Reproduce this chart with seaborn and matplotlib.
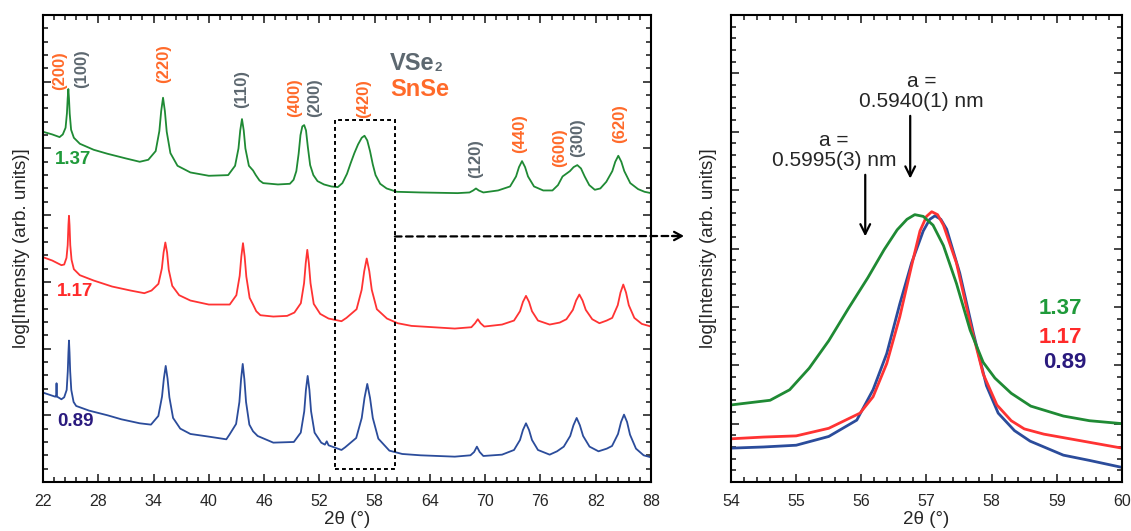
import matplotlib
matplotlib.use("Agg")
import numpy as np
import pandas as pd
import matplotlib.pyplot as plt
import seaborn as sns
from matplotlib.patches import Rectangle, ConnectionPatch

# ---------------- data ----------------
# left panel: full patterns (vertically offset, log intensity, arb. units)
g_x = [22.0, 23.0, 23.8, 24.15, 24.45, 24.6, 24.68, 24.75, 24.82, 24.9, 25.05, 25.35, 26.0, 27.5, 29.0,
       31.0, 32.5, 33.43, 34.23, 34.63, 34.83, 35.03, 35.23, 35.43, 35.83, 36.6, 38.0, 40.0,
       42.1, 42.85, 43.22, 43.41, 43.6, 43.79, 43.97, 44.35, 44.8, 45.1, 45.5, 45.9, 47.5, 48.8,
       49.2, 49.5, 49.75, 49.95, 50.15, 50.35, 50.55, 50.75, 51.0, 51.35, 51.8, 52.5, 53.3, 54.0,
       54.5, 55.0, 55.4, 55.8, 56.2, 56.6, 56.9, 57.2, 57.5, 57.8, 58.1, 58.6, 59.3, 60.4, 63.0, 67.0,
       68.3, 68.7, 69.0, 69.3, 69.8, 71.4, 72.7, 73.35, 73.67, 74.0, 74.33, 74.65, 75.3, 76.3,
       77.3, 77.9, 78.4, 78.8, 79.2, 79.6, 80.0, 80.4, 80.8, 81.3, 81.9, 82.5, 83.15, 83.8,
       84.12, 84.45, 84.78, 85.1, 85.75, 86.6, 87.3, 88.0]
g_y = [5.25, 5.21, 5.17, 5.21, 5.31, 5.53, 5.75, 5.89, 5.75, 5.52, 5.28, 5.16, 5.07, 4.98, 4.92,
       4.85, 4.80, 4.83, 4.96, 5.26, 5.56, 5.76, 5.56, 5.25, 4.93, 4.74, 4.64, 4.59,
       4.60, 4.74, 5.00, 5.27, 5.44, 5.27, 5.00, 4.74, 4.67, 4.60, 4.52, 4.48, 4.46, 4.47,
       4.53, 4.66, 4.92, 5.20, 5.33, 5.35, 5.27, 5.02, 4.75, 4.60, 4.51, 4.46, 4.43, 4.42,
       4.48, 4.62, 4.78, 4.93, 5.06, 5.16, 5.19, 5.12, 4.96, 4.76, 4.60, 4.47, 4.40, 4.35, 4.34, 4.33,
       4.34, 4.37, 4.40, 4.37, 4.34, 4.37, 4.43, 4.58, 4.72, 4.81, 4.72, 4.58, 4.43, 4.37,
       4.37, 4.45, 4.58, 4.62, 4.66, 4.72, 4.75, 4.70, 4.58, 4.45, 4.38, 4.40, 4.50, 4.66,
       4.80, 4.89, 4.80, 4.66, 4.48, 4.39, 4.35, 4.33]

r_x = [22.0, 23.0, 24.0, 24.3, 24.55, 24.68, 24.76, 24.82, 24.88, 24.96, 25.1, 25.35, 26.0, 27.5, 29.5,
       31.5, 33.0, 33.78, 34.53, 34.9, 35.09, 35.28, 35.47, 35.65, 36.03, 36.78, 38.0, 40.0,
       42.27, 42.99, 43.35, 43.53, 43.71, 43.89, 44.07, 44.43, 44.8, 45.15, 45.6, 47.0, 48.5,
       49.29, 49.99, 50.34, 50.52, 50.69, 50.86, 51.04, 51.39, 52.09, 53.0, 54.4, 54.94, 56.04,
       56.59, 56.87, 57.14, 57.42, 57.69, 58.24, 59.34, 60.5, 62.0, 66.7, 68.5, 68.9, 69.2, 69.5,
       69.9, 71.83, 73.13, 73.78, 74.1, 74.43, 74.76, 75.08, 75.73, 77.0, 78.1, 78.82, 79.52,
       79.87, 80.22, 80.57, 80.92, 81.62, 82.4, 83.19, 83.79, 84.39, 84.69, 84.99, 85.29, 85.59,
       86.19, 87.0, 88.0]
r_y = [3.37, 3.32, 3.25, 3.26, 3.36, 3.55, 3.85, 3.99, 3.85, 3.55, 3.33, 3.19, 3.10, 3.02, 2.93,
       2.87, 2.83, 2.87, 2.97, 3.20, 3.44, 3.59, 3.44, 3.18, 2.94, 2.80, 2.72, 2.66,
       2.66, 2.80, 3.09, 3.38, 3.58, 3.38, 3.08, 2.76, 2.66, 2.56, 2.50, 2.48, 2.49,
       2.54, 2.68, 2.98, 3.28, 3.48, 3.28, 2.98, 2.67, 2.52, 2.45, 2.41, 2.46, 2.59,
       2.88, 3.16, 3.35, 3.16, 2.88, 2.59, 2.45, 2.38, 2.34, 2.30, 2.32, 2.38, 2.44, 2.38,
       2.33, 2.36, 2.42, 2.56, 2.70, 2.79, 2.70, 2.56, 2.42, 2.36, 2.39, 2.44, 2.58,
       2.72, 2.81, 2.72, 2.58, 2.44, 2.38, 2.42, 2.46, 2.65, 2.84, 2.96, 2.84, 2.65,
       2.46, 2.37, 2.33]

b_x = [22.0, 23.3, 23.42, 23.47, 23.52, 24.0, 24.3, 24.57, 24.69, 24.76, 24.82, 24.88, 24.95, 25.07, 25.32,
       25.6, 27.0, 29.0, 30.5, 32.5, 33.72, 34.52, 34.92, 35.12, 35.32, 35.52, 35.72, 36.12, 36.9,
       38.0, 40.0, 41.9, 42.24, 42.96, 43.32, 43.5, 43.68, 43.86, 44.04, 44.4, 44.8, 45.3, 47.0,
       49.23, 49.98, 50.36, 50.54, 50.73, 50.92, 51.1, 51.48, 52.2, 52.6, 52.8, 53.0, 54.4, 54.8,
       56.0, 56.6, 56.9, 57.2, 57.5, 57.8, 58.4, 59.6, 61.0, 63.0, 66.7, 68.4, 68.8, 69.1, 69.4,
       69.8, 71.83, 73.13, 73.78, 74.1, 74.43, 74.76, 75.08, 75.73, 77.0, 77.8, 78.53, 79.23,
       79.58, 79.93, 80.28, 80.63, 81.33, 82.3, 83.2, 83.77, 84.42, 84.75, 85.07, 85.4, 85.72,
       86.37, 87.2, 88.0]
b_y = [1.34, 1.28, 1.28, 1.48, 1.28, 1.24, 1.27, 1.38, 1.66, 1.94, 2.12, 1.94, 1.66, 1.38, 1.20,
       1.14, 1.07, 1.00, 0.94, 0.88, 0.86, 0.99, 1.28, 1.55, 1.74, 1.55, 1.27, 0.96, 0.80,
       0.72, 0.68, 0.64, 0.71, 0.87, 1.20, 1.54, 1.77, 1.54, 1.20, 0.86, 0.76, 0.69, 0.59,
       0.60, 0.74, 1.06, 1.38, 1.59, 1.38, 1.06, 0.74, 0.59, 0.56, 0.61, 0.55, 0.48, 0.52,
       0.66, 0.96, 1.26, 1.47, 1.26, 0.96, 0.65, 0.47, 0.42, 0.40, 0.38, 0.40, 0.45, 0.53, 0.45,
       0.39, 0.41, 0.48, 0.63, 0.78, 0.88, 0.78, 0.63, 0.48, 0.41, 0.46, 0.53, 0.69,
       0.85, 0.96, 0.85, 0.69, 0.53, 0.46, 0.50, 0.54, 0.72, 0.90, 1.01, 0.90, 0.71,
       0.50, 0.40, 0.37]

# right panel: (420) reflection, enlarged
gz_x = [54.0, 54.3, 54.6, 54.9, 55.2, 55.5, 55.8, 56.1, 56.35, 56.55, 56.7, 56.82, 56.95, 57.1, 57.26,
        57.46, 57.67, 57.87, 58.05, 58.3, 58.6, 59.1, 59.5, 60.0]
gz_y = [1.32, 1.36, 1.40, 1.58, 1.95, 2.42, 2.97, 3.50, 3.98, 4.32, 4.50, 4.58, 4.55, 4.40, 4.05,
        3.40, 2.60, 2.05, 1.78, 1.52, 1.30, 1.13, 1.05, 1.00]
rz_x = [54.0, 54.5, 55.0, 55.5, 55.98, 56.18, 56.39, 56.59, 56.77, 56.9, 57.0, 57.08, 57.17, 57.26, 57.46,
        57.67, 57.87, 58.08, 58.3, 58.5, 58.8, 59.1, 59.5, 60.0]
rz_y = [0.74, 0.77, 0.79, 0.92, 1.18, 1.46, 2.03, 2.83, 3.70, 4.30, 4.55, 4.63, 4.58, 4.40, 3.75,
        2.72, 1.85, 1.32, 1.05, 0.91, 0.82, 0.76, 0.68, 0.58]
bz_x = [54.0, 54.5, 55.0, 55.5, 55.93, 56.18, 56.39, 56.59, 56.77, 56.95, 57.05, 57.13, 57.22, 57.31, 57.51,
        57.72, 57.92, 58.1, 58.35, 58.59, 59.1, 59.5, 60.0]
bz_y = [0.58, 0.60, 0.63, 0.78, 1.06, 1.58, 2.20, 3.05, 3.75, 4.30, 4.50, 4.56, 4.50, 4.33, 3.58,
        2.55, 1.65, 1.18, 0.88, 0.70, 0.46, 0.37, 0.25]

samples = ["1.37", "1.17", "0.89"]
line_colors = {"1.37": "#1f8a34", "1.17": "#ff3333", "0.89": "#2b4c9b"}
text_colors = {"1.37": "#1f9a3a", "1.17": "#ff2a2a", "0.89": "#2a1a7e"}

# peak indexing labels
hkl_labels = ["(200)", "(100)", "(220)", "(110)", "(400)", "(200)", "(420)", "(120)", "(440)", "(600)", "(300)", "(620)"]
hkl_x = [23.85, 26.2, 35.1, 43.57, 49.36, 51.5, 56.77, 69.0, 73.78, 78.12, 80.0, 84.56]
hkl_y = [5.88, 5.91, 5.98, 5.61, 5.47, 5.47, 5.46, 4.56, 4.93, 4.72, 4.87, 5.08]
hkl_phase = ["SnSe", "VSe2", "SnSe", "VSe2", "SnSe", "VSe2", "SnSe", "VSe2", "SnSe", "SnSe", "VSe2", "SnSe"]

left_xticks = [22, 28, 34, 40, 46, 52, 58, 64, 70, 76, 82, 88]
right_xticks = [54, 55, 56, 57, 58, 59, 60]

ORANGE = "#ff6a2a"
GRAY = "#5d6870"

# ---------------- figure ----------------
sns.set_style("ticks")
plt.rcParams["font.family"] = ["Liberation Sans", "DejaVu Sans"]

fig = plt.figure(figsize=(11.31, 5.31), dpi=100)
ax1 = fig.add_axes([43 / 1131, 49 / 531, 608 / 1131, 467 / 531])
ax2 = fig.add_axes([731 / 1131, 49 / 531, 391 / 1131, 467 / 531])

left = pd.concat([
    pd.DataFrame({"theta": g_x, "I": g_y, "sample": "1.37"}),
    pd.DataFrame({"theta": r_x, "I": r_y, "sample": "1.17"}),
    pd.DataFrame({"theta": b_x, "I": b_y, "sample": "0.89"}),
])
right = pd.concat([
    pd.DataFrame({"theta": bz_x, "I": bz_y, "sample": "0.89"}),
    pd.DataFrame({"theta": rz_x, "I": rz_y, "sample": "1.17"}),
    pd.DataFrame({"theta": gz_x, "I": gz_y, "sample": "1.37"}),
])

sns.lineplot(data=left, x="theta", y="I", hue="sample", palette=line_colors, estimator=None,
             sort=False, legend=False, lw=1.3, ax=ax1)
sns.lineplot(data=right, x="theta", y="I", hue="sample", palette=line_colors, estimator=None,
             sort=False, legend=False, lw=2.0, ax=ax2)

for ax, xt, (y0, y1) in [(ax1, left_xticks, (0, 7)), (ax2, right_xticks, (0, 8))]:
    ax.set_xlim(xt[0], xt[-1])
    ax.set_ylim(y0, y1)
    ax.set_xticks(xt)
    step = (xt[1] - xt[0]) / 5
    ax.set_xticks(np.arange(xt[0], xt[-1] + step / 2, step), minor=True)
    ax.set_yticks(np.arange(y0, y1 + 0.5, 1))
    ax.set_yticks(np.arange(y0, y1 + 0.1, 0.2), minor=True)
    ax.tick_params(which="both", direction="in", top=True, right=True, labelleft=False,
                   width=1.2, labelsize=11.5, pad=9)
    ax.tick_params(which="major", length=6)
    ax.tick_params(which="minor", length=3.5)
    for s in ax.spines.values():
        s.set_linewidth(1.5)
        s.set_color("black")
    ax.set_xlabel("2θ (°)", fontsize=13.5)
    ax.set_ylabel("log[Intensity (arb. units)]", fontsize=13.5)

ax1.xaxis.set_label_coords(0.5, -0.063)
ax2.xaxis.set_label_coords(0.5, -0.063)
ax1.yaxis.set_label_coords(-0.022, 0.5)
ax2.yaxis.set_label_coords(-0.036, 0.5)

# sample labels left
ax1.text(23.3, 4.83, "1.37", color=text_colors["1.37"], fontsize=13.5, fontweight="bold", va="center")
ax1.text(23.5, 2.85, "1.17", color=text_colors["1.17"], fontsize=13.5, fontweight="bold", va="center")
ax1.text(23.6, 0.90, "0.89", color=text_colors["0.89"], fontsize=13.5, fontweight="bold", va="center")

# hkl labels
for lab, x, y, ph in zip(hkl_labels, hkl_x, hkl_y, hkl_phase):
    ax1.text(x, y, lab, rotation=90, ha="center", va="bottom", fontsize=12, fontweight="bold",
             color=ORANGE if ph == "SnSe" else GRAY)

# phase legend
ax1.text(59.67, 6.28, "VSe", color=GRAY, fontsize=17, fontweight="bold", va="center", ha="left")
ax1.text(64.55, 6.21, "2", color=GRAY, fontsize=9.5, fontweight="bold", va="center", ha="left")
ax1.text(59.67, 5.88, "SnSe", color=ORANGE, fontsize=17, fontweight="bold", va="center", ha="left")

# dotted selection box
ax1.add_patch(Rectangle((53.7, 0.195), 6.5, 5.225, fill=False, ec="black", lw=1.4,
                        ls=(0, (2, 1.6)), zorder=5))
# dashed connector to the enlarged panel
con = ConnectionPatch(xyA=(60.2, 3.68), coordsA=ax1.transData,
                      xyB=(676 / 1131, 1 - 236 / 531), coordsB="figure fraction",
                      color="black", lw=1.6, ls=(0, (3, 2)))
fig.add_artist(con)
head = ConnectionPatch(xyA=(672 / 1131, 1 - 236 / 531), coordsA="figure fraction",
                       xyB=(684 / 1131, 1 - 236 / 531), coordsB="figure fraction",
                       arrowstyle="->,head_length=0.55,head_width=0.3", color="black", lw=1.6)
fig.add_artist(head)

# right panel labels
ax2.text(59.39, 2.98, "1.37", color=text_colors["1.37"], fontsize=16, fontweight="bold", ha="right", va="center")
ax2.text(59.39, 2.47, "1.17", color=text_colors["1.17"], fontsize=16, fontweight="bold", ha="right", va="center")
ax2.text(59.45, 2.04, "0.89", color=text_colors["0.89"], fontsize=16, fontweight="bold", ha="right", va="center")

# lattice parameter annotations
ax2.annotate("", xy=(56.75, 5.15), xytext=(56.75, 6.32),
             arrowprops=dict(arrowstyle="->,head_length=0.7,head_width=0.35", color="black", lw=1.6))
ax2.text(56.92, 6.36, "a =\n0.5940(1) nm", ha="center", va="bottom", fontsize=15, linespacing=1.05)
ax2.annotate("", xy=(56.06, 4.16), xytext=(56.06, 5.31),
             arrowprops=dict(arrowstyle="->,head_length=0.7,head_width=0.35", color="black", lw=1.6))
ax2.text(55.58, 5.35, "a =\n0.5995(3) nm", ha="center", va="bottom", fontsize=15, linespacing=1.05)

fig.savefig("out.png", dpi=100)
